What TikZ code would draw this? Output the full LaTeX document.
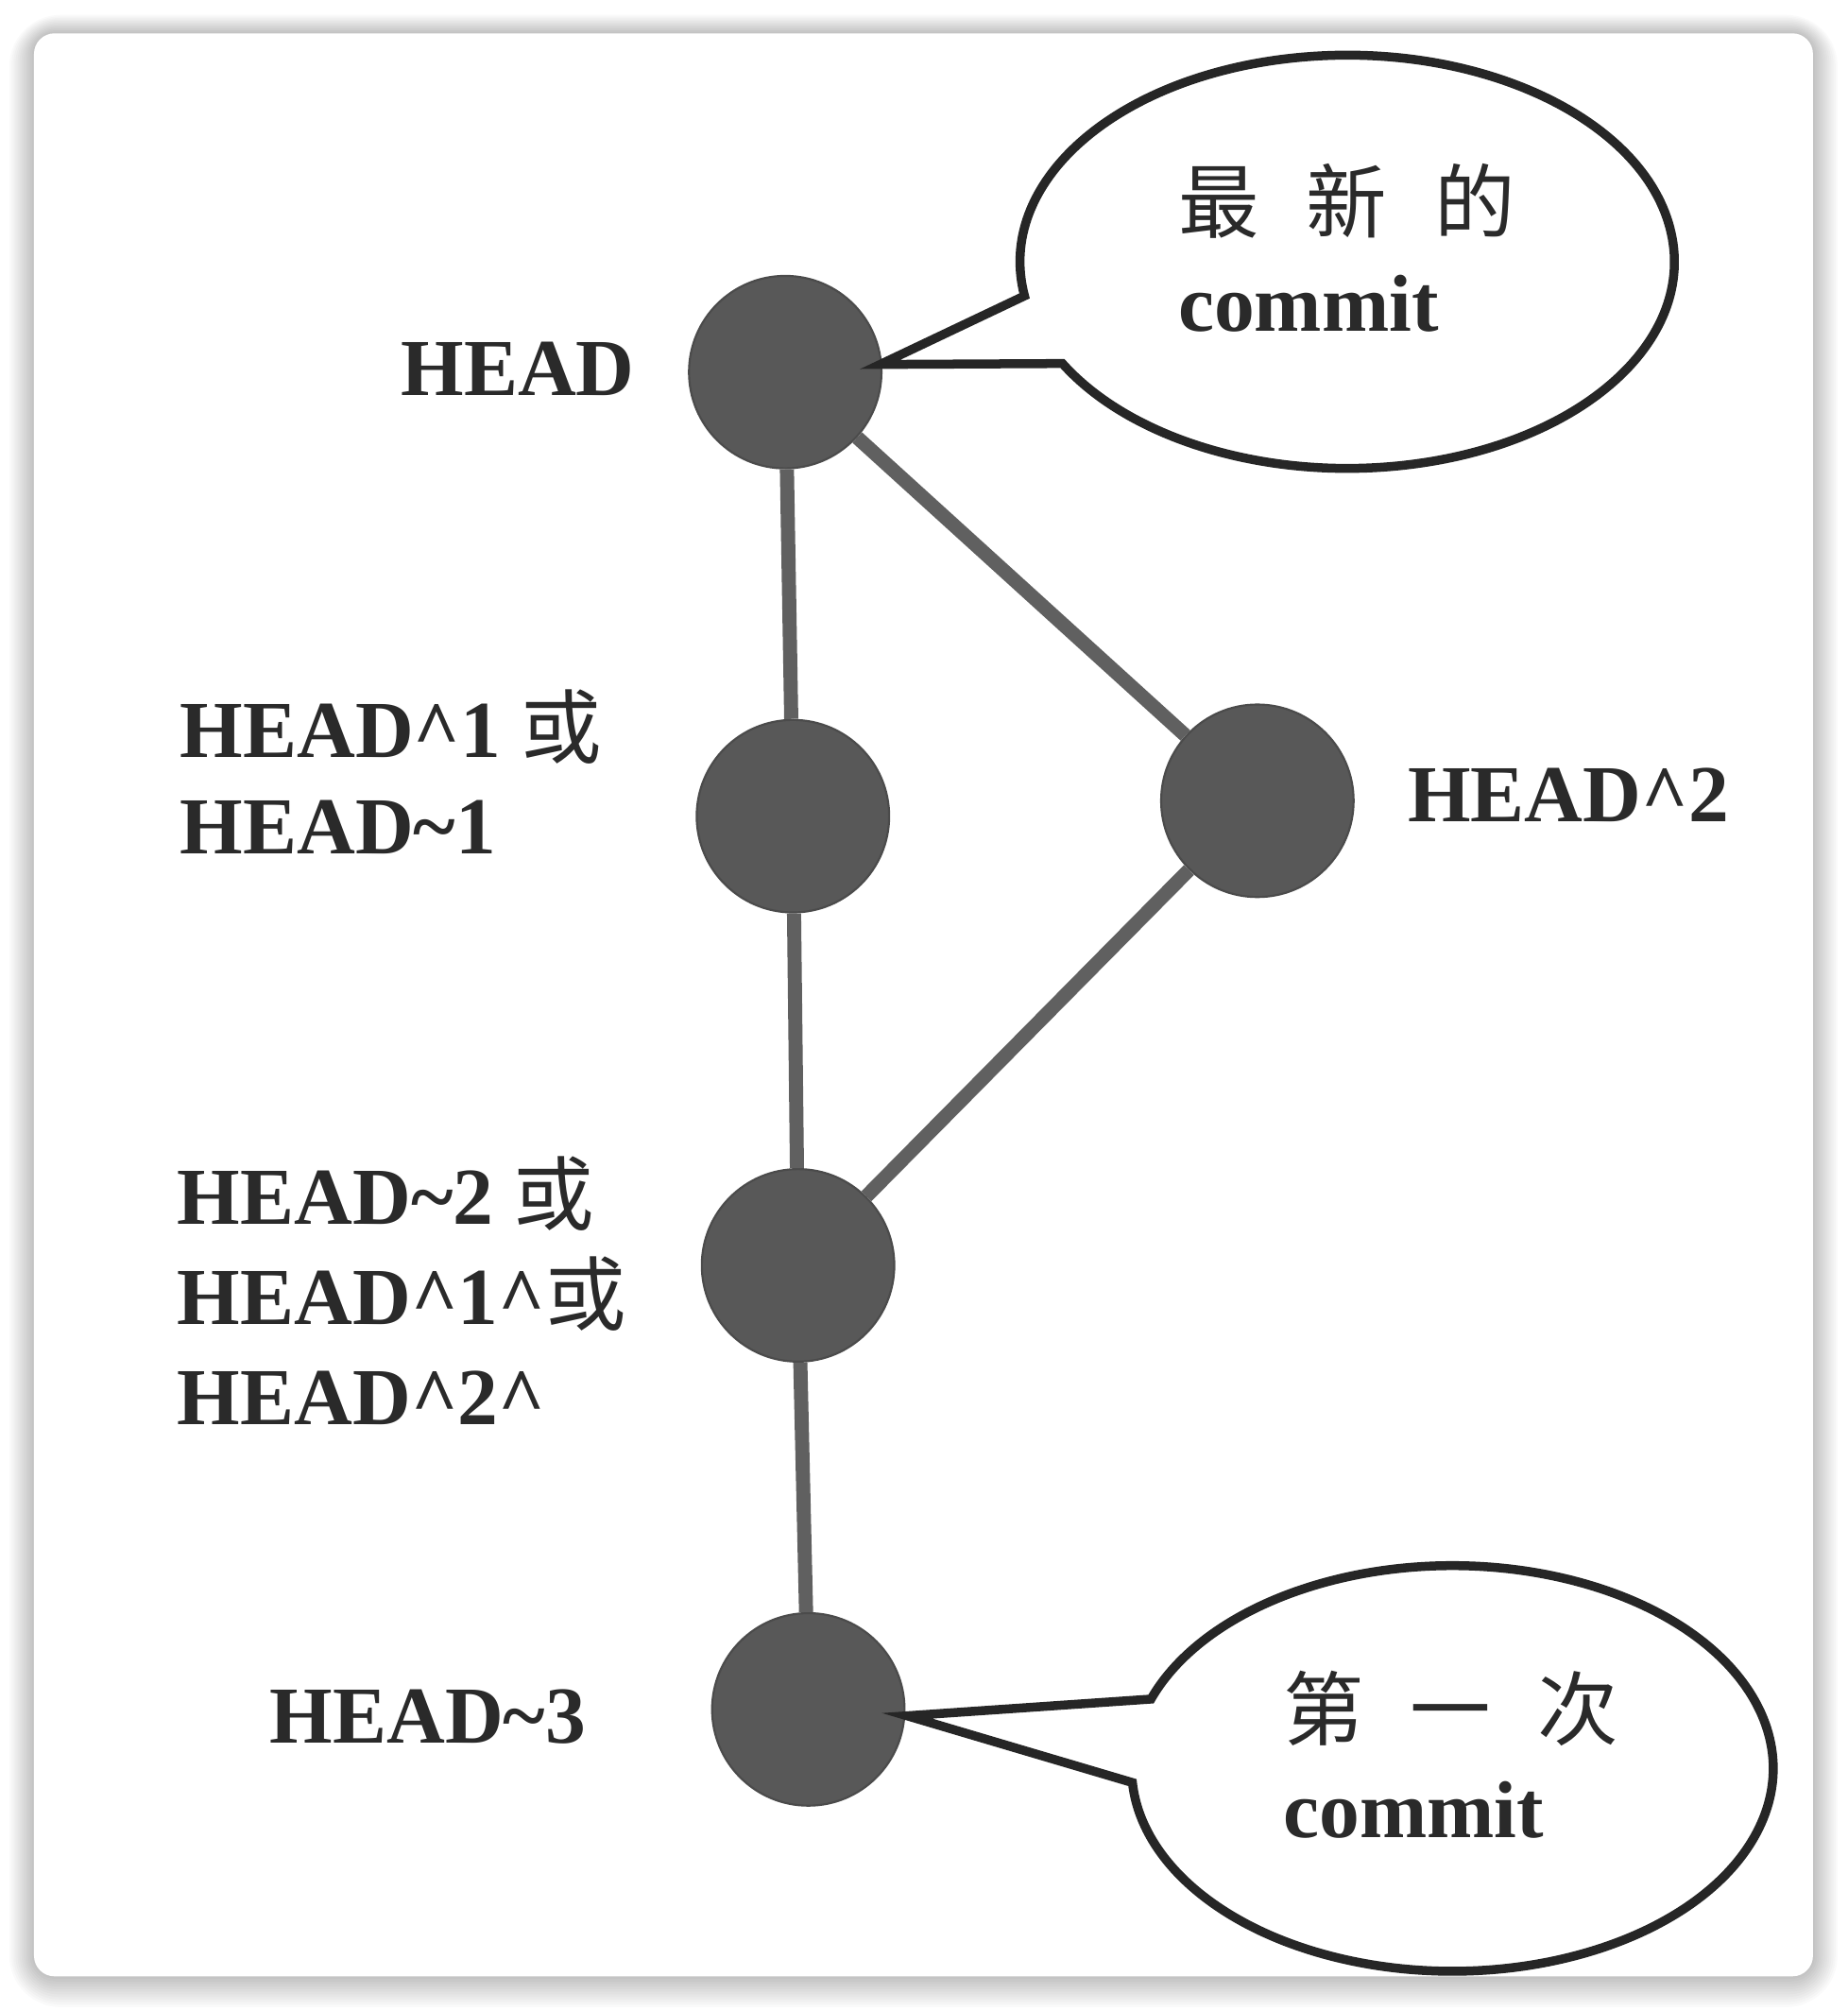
\documentclass[tikz,border=0pt]{standalone}
\usepackage{fontspec}
\setmainfont{Liberation Serif}
\newfontfamily\cjkfont{Noto Sans CJK SC}
\newcommand{\zh}[1]{{\cjkfont\mdseries #1}}
\definecolor{nodegray}{HTML}{585858}
\definecolor{edgegray}{HTML}{606060}
\definecolor{ink}{HTML}{2A2A2A}
\definecolor{bubbleink}{HTML}{262626}
\begin{document}
\begin{tikzpicture}[x=0.5pt,y=0.5pt,
  commit/.style={circle,fill=nodegray,draw=nodegray!85!black,line width=0.8pt,minimum size=75pt,inner sep=0},
  edge/.style={draw=edgegray,line width=5.5pt},
  lbl/.style={font=\bfseries\fontsize{31.5}{38}\selectfont,text=ink,inner sep=0,align=left},
  btxt/.style={font=\bfseries\fontsize{31.5}{38.5}\selectfont,text=ink,inner sep=0,align=left},
  bubble/.style={draw=bubbleink,line width=3.5pt,fill=white,line join=miter}
]
\useasboundingbox (0,0) rectangle (1440,1567);
\fill[white] (0,0) rectangle (1440,1567);
% card shadow
\foreach \i in {1,...,12}{
  \fill[black,opacity=0.018,rounded corners=8+\i] (26.5-1.6*\i,27-2*\i) rectangle (1413+1.6*\i,1541+1.2*\i);
}
\fill[white,rounded corners=8] (26.5,27) rectangle (1413,1541);

% commits
\node[commit] (h0) at (612,1277) {};
\node[commit] (h1) at (618,931) {};
\node[commit] (h2) at (980,943) {};
\node[commit] (h3) at (622,581) {};
\node[commit] (h4) at (630,235) {};

% edges
\draw[edge] (h0) -- (h1);
\draw[edge] (h0) -- (h2);
\draw[edge] (h1) -- (h3);
\draw[edge] (h2) -- (h3);
\draw[edge] (h3) -- (h4);

% labels
\node[lbl,anchor=base east] (l0) at (495,1259) {HEAD};
\node[lbl,anchor=base west,font=\bfseries\fontsize{31.5}{37.5}\selectfont] (l1) at (140,902) {HEAD\textasciicircum1 \zh{或}\\HEAD\textasciitilde1};
\node[lbl,anchor=base west] (l2) at (1097,927) {HEAD\textasciicircum2};
\node[lbl,anchor=base west,font=\bfseries\fontsize{31.5}{39}\selectfont] (l3) at (138,457) {HEAD\textasciitilde2 \zh{或}\\HEAD\textasciicircum1\textasciicircum\zh{或}\\HEAD\textasciicircum2\textasciicircum};
\node[lbl,anchor=base west] (l4) at (210,209) {HEAD\textasciitilde3};

% bubble 1
\coordinate (t1) at (686,1283);
\draw[bubble] (1050,1363) ++(189.5:255 and 161) arc[start angle=189.5,end angle=-150.5,x radius=255,y radius=161] -- (t1) -- cycle;
\node[btxt,anchor=base west] (b1) at (918,1309) {\zh{最\hspace{18.5pt}新\hspace{18.5pt}的}\\commit};

% bubble 2
\coordinate (t2) at (707,230);
\draw[bubble] (1132,189) ++(160:250 and 158) arc[start angle=160,end angle=-176,x radius=250,y radius=158] -- (t2) -- cycle;
\node[btxt,anchor=base west] (b2) at (1000,135) {\zh{第\hspace{18pt}一\hspace{18pt}次}\\commit};
\end{tikzpicture}
\end{document}
